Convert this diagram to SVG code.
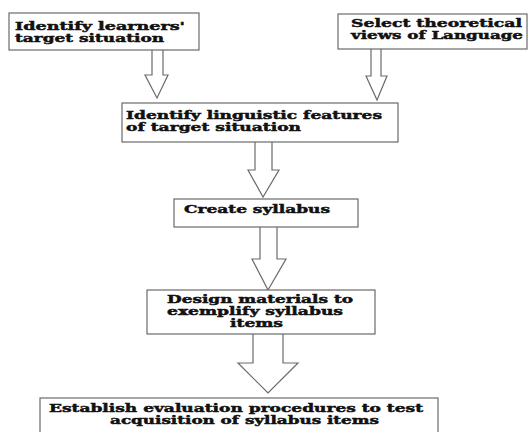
<svg xmlns="http://www.w3.org/2000/svg" width="528" height="432" viewBox="0 0 528 432">
  <style>
    .box { fill: #ffffff; stroke: #6a6a6a; stroke-width: 1.2; }
    .arrow { fill: #ffffff; stroke: #6a6a6a; stroke-width: 1.2; stroke-linejoin: miter; }
    .lbl { font-family: "DejaVu Serif", "Liberation Serif", serif; font-weight: bold; font-size: 11px; fill: #111111; stroke: #111111; stroke-width: 0.45; }
  </style>
  <rect width="528" height="432" fill="#ffffff"/>

  <!-- hollow block arrows between steps -->
  <g id="connectors">
    <path class="arrow" d="M152,50 L152,75 L145,75 L157,98 L168,75 L163,75 L163,50"/>
    <path class="arrow" d="M371,49 L371,76 L366,76 L377,100 L387,76 L381,76 L381,49"/>
    <path class="arrow" d="M255,142 L255,170 L248,170 L263,197 L279,170 L272,170 L272,142"/>
    <path class="arrow" d="M260,227 L260,259 L252,259 L268,290 L286,259 L277,259 L277,227"/>
    <path class="arrow" d="M253,334 L253,363 L238,363 L268,393 L298,363 L283,363 L283,334"/>
  </g>

  <g id="target-situation">
    <rect class="box" x="9" y="13" width="190" height="37"/>
    <text class="lbl" x="15" y="30" textLength="170" lengthAdjust="spacingAndGlyphs">Identify learners'</text>
    <text class="lbl" x="15" y="42" textLength="149" lengthAdjust="spacingAndGlyphs">target situation</text>
  </g>

  <g id="theoretical-views">
    <rect class="box" x="338" y="14" width="189" height="35"/>
    <text class="lbl" x="351" y="27" textLength="171" lengthAdjust="spacingAndGlyphs">Select theoretical</text>
    <text class="lbl" x="351" y="39" textLength="172" lengthAdjust="spacingAndGlyphs">views of Language</text>
  </g>

  <g id="linguistic-features">
    <rect class="box" x="122" y="103" width="276" height="39"/>
    <text class="lbl" x="126" y="119" textLength="256" lengthAdjust="spacingAndGlyphs">Identify linguistic features</text>
    <text class="lbl" x="126" y="131" textLength="175" lengthAdjust="spacingAndGlyphs">of target situation</text>
  </g>

  <g id="create-syllabus">
    <rect class="box" x="174" y="199" width="184" height="28"/>
    <text class="lbl" x="184" y="213" textLength="146" lengthAdjust="spacingAndGlyphs">Create syllabus</text>
  </g>

  <g id="design-materials">
    <rect class="box" x="147" y="290" width="228" height="44"/>
    <text class="lbl" x="167" y="303" textLength="186" lengthAdjust="spacingAndGlyphs">Design materials to</text>
    <text class="lbl" x="167" y="315" textLength="176" lengthAdjust="spacingAndGlyphs">exemplify syllabus</text>
    <text class="lbl" x="230" y="327" textLength="53" lengthAdjust="spacingAndGlyphs">items</text>
  </g>

  <g id="evaluation">
    <rect class="box" x="40" y="398" width="398" height="42"/>
    <text class="lbl" x="49" y="412" textLength="374" lengthAdjust="spacingAndGlyphs">Establish evaluation procedures to test</text>
    <text class="lbl" x="110" y="424" textLength="269" lengthAdjust="spacingAndGlyphs">acquisition of syllabus items</text>
  </g>
</svg>
